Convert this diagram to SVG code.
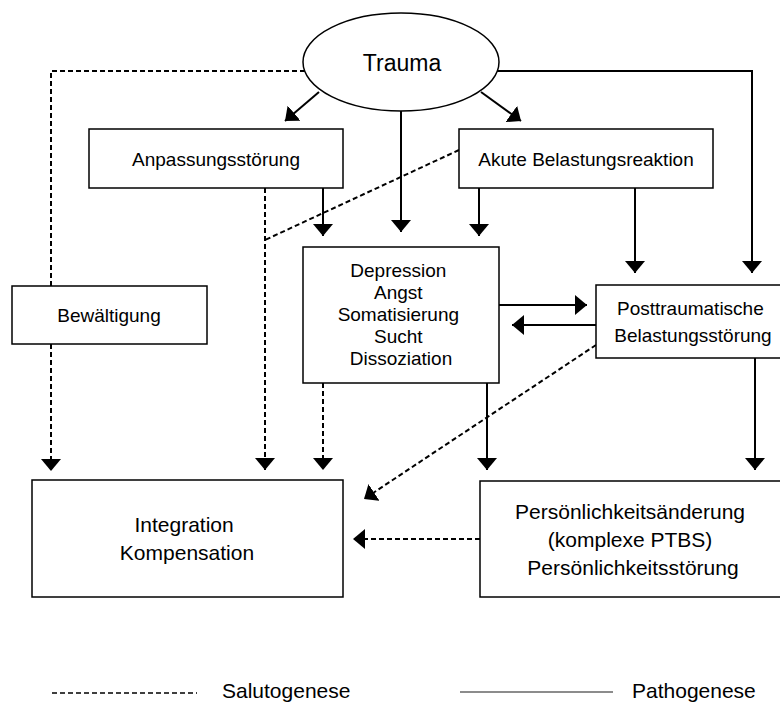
<svg xmlns="http://www.w3.org/2000/svg" width="780" height="704" viewBox="0 0 780 704">
<style>
  .box { fill: #fff; stroke: #000; stroke-width: 1.5; }
  .t { font-family: "Liberation Sans", Arial, sans-serif; font-size: 19px; fill: #000; text-anchor: middle; }
  .tl { font-family: "Liberation Sans", Arial, sans-serif; font-size: 21px; fill: #000; text-anchor: middle; }
  .leg { font-family: "Liberation Sans", Arial, sans-serif; font-size: 21px; fill: #000; }
  .s { fill: none; stroke: #000; stroke-width: 2; }
  .d { fill: none; stroke: #000; stroke-width: 2; stroke-dasharray: 5 3; }
  .a { marker-end: url(#ah); }
</style>
<defs>
  <marker id="ah" viewBox="0 0 12 20" markerWidth="12" markerHeight="20" refX="12" refY="10" orient="auto" markerUnits="userSpaceOnUse">
    <path d="M0,0 L12,10 L0,20 z" fill="#000"/>
  </marker>
</defs>
<rect width="780" height="704" fill="#fff"/>

<g id="connectors">
  <!-- dashed (Salutogenese) -->
  <polyline class="d" points="305,71 51,71 51,286"/>
  <line class="d a" x1="51" y1="344" x2="51" y2="471"/>
  <line class="d a" x1="265" y1="188" x2="265" y2="470"/>
  <line class="d" x1="459" y1="150" x2="265" y2="240"/>
  <line class="d a" x1="323" y1="383" x2="323" y2="470"/>
  <line class="d a" x1="596" y1="345" x2="364" y2="499"/>
  <line class="d a" x1="480" y1="539" x2="353" y2="539"/>
  <!-- solid (Pathogenese) -->
  <line class="s a" x1="319" y1="92" x2="285" y2="121"/>
  <line class="s a" x1="481" y1="92" x2="521" y2="121"/>
  <line class="s a" x1="401" y1="110" x2="401" y2="232"/>
  <line class="s a" x1="323" y1="188" x2="323" y2="236"/>
  <line class="s a" x1="479" y1="188" x2="479" y2="236"/>
  <line class="s a" x1="635" y1="188" x2="635" y2="273"/>
  <polyline class="s a" points="497,71 752,71 752,273"/>
  <line class="s a" x1="499" y1="305" x2="587" y2="305"/>
  <line class="s a" x1="596" y1="325" x2="512" y2="325"/>
  <line class="s a" x1="487" y1="383" x2="487" y2="470"/>
  <line class="s a" x1="755" y1="358" x2="755" y2="470"/>
</g>

<g id="trauma">
  <ellipse cx="401" cy="62" rx="98" ry="49" class="box"/>
  <text x="402" y="71" class="t" style="font-size:23px">Trauma</text>
</g>

<g id="anpassung">
  <rect x="89" y="129" width="254" height="59" class="box"/>
  <text x="216" y="166" class="t">Anpassungsstörung</text>
</g>

<g id="akute">
  <rect x="459" y="129" width="254" height="59" class="box"/>
  <text x="586" y="166" class="t">Akute Belastungsreaktion</text>
</g>

<g id="bewaeltigung">
  <rect x="12" y="286" width="195" height="58" class="box"/>
  <text x="109" y="322" class="t">Bewältigung</text>
</g>

<g id="depression">
  <rect x="303" y="247" width="196" height="136" class="box"/>
  <text class="t">
    <tspan x="401" y="277">Depression</tspan>
    <tspan x="401" y="299">Angst</tspan>
    <tspan x="401" y="321">Somatisierung</tspan>
    <tspan x="401" y="343">Sucht</tspan>
    <tspan x="401" y="365">Dissoziation</tspan>
  </text>
</g>

<g id="ptbs">
  <rect x="596" y="285" width="196" height="73" class="box"/>
  <text class="t">
    <tspan x="693" y="315">Posttraumatische</tspan>
    <tspan x="693" y="342">Belastungsstörung</tspan>
  </text>
</g>

<g id="integration">
  <rect x="32" y="480" width="311" height="117" class="box"/>
  <text class="tl">
    <tspan x="187" y="532">Integration</tspan>
    <tspan x="187" y="560">Kompensation</tspan>
  </text>
</g>

<g id="persoenlichkeit">
  <rect x="480" y="481" width="308" height="116" class="box"/>
  <text class="tl">
    <tspan x="633" y="519">Persönlichkeitsänderung</tspan>
    <tspan x="633" y="547">(komplexe PTBS)</tspan>
    <tspan x="633" y="575">Persönlichkeitsstörung</tspan>
  </text>
</g>

<g id="legend">
  <line x1="52" y1="693" x2="197" y2="693" stroke="#000" stroke-width="1.5" stroke-dasharray="5 3"/>
  <text x="222" y="698" class="leg">Salutogenese</text>
  <line x1="460" y1="692" x2="613" y2="692" stroke="#666" stroke-width="1.5"/>
  <text x="632" y="698" class="leg">Pathogenese</text>
</g>
</svg>
